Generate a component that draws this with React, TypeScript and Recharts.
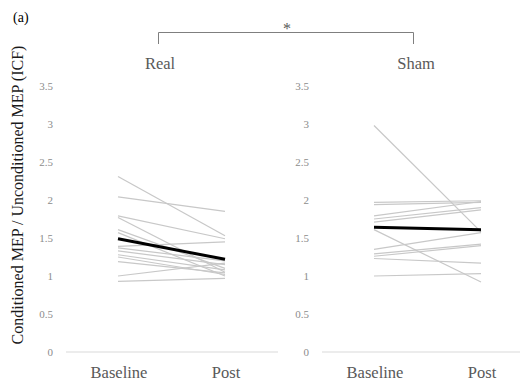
import React from "react";
import { Line, LineChart, XAxis, YAxis } from "recharts";

const phases = ["Baseline", "Post"];
const yTicks = [0, 0.5, 1, 1.5, 2, 2.5, 3, 3.5];

// Real stimulation, one value per subject
const realBaseline = [2.31, 2.04, 1.79, 1.77, 1.61, 1.57, 1.39, 1.37, 1.33, 1.28, 1.25, 1.19, 1.0, 0.93];
const realPost = [1.53, 1.85, 1.49, 1.05, 1.1, 1.0, 1.45, 1.2, 1.15, 1.08, 1.02, 1.04, 1.17, 0.97];
const realMean = [1.49, 1.22];

// Sham stimulation
const shamBaseline = [2.98, 1.97, 1.94, 1.79, 1.75, 1.71, 1.61, 1.35, 1.29, 1.26, 1.23, 1.0];
const shamPost = [1.58, 1.99, 1.97, 1.98, 1.9, 1.87, 0.92, 1.57, 1.42, 1.4, 1.17, 1.03];
const shamMean = [1.64, 1.61];

const FONT = '"Liberation Serif", "Times New Roman", serif';

const buildRows = (baseline: number[], post: number[], mean: number[]) =>
  phases.map((phase, i) => {
    const row: any = { phase, mean: mean[i] };
    const src = i === 0 ? baseline : post;
    src.forEach((v, k) => {
      row["s" + k] = v;
    });
    return row;
  });

const PhaseTick = (props: any) => {
  const { x, y, payload } = props;
  return (
    <text x={x + 1} y={y + 18} textAnchor="middle" fontFamily={FONT} fontSize={16.5} fill="#595959">
      {payload.value}
    </text>
  );
};

const ValueTick = (props: any) => {
  const { x, y, payload } = props;
  return (
    <text x={x} y={y + 4} textAnchor="end" fontFamily={FONT} fontSize={11} fill="#8c8c8c">
      {payload.value}
    </text>
  );
};

interface PanelProps {
  baseline: number[];
  post: number[];
  mean: number[];
  left: number;
}

const Panel: React.FC<PanelProps> = ({ baseline, post, mean, left }) => {
  const data = buildRows(baseline, post, mean);
  return (
    <div style={{ position: "absolute", left, top: 0 }}>
      <LineChart width={300} height={382} data={data} margin={{ top: 86, right: 22, bottom: 0, left: 0 }}>
        <XAxis
          dataKey="phase"
          height={30}
          padding={{ left: 52, right: 53 }}
          tickLine={false}
          axisLine={{ stroke: "#d9d9d9" }}
          tick={<PhaseTick />}
          interval={0}
        />
        <YAxis
          width={66}
          domain={[0, 3.5]}
          ticks={yTicks}
          axisLine={false}
          tickLine={false}
          tickSize={0}
          tickMargin={13}
          tick={<ValueTick />}
        />
        {baseline.map((_, k) => (
          <Line
            key={k}
            type="linear"
            dataKey={"s" + k}
            stroke="#c8c8c8"
            strokeWidth={1.2}
            dot={false}
            isAnimationActive={false}
          />
        ))}
        <Line type="linear" dataKey="mean" stroke="#000000" strokeWidth={3} dot={false} isAnimationActive={false} />
      </LineChart>
    </div>
  );
};

export default function App() {
  return (
    <div
      style={{
        position: "fixed",
        left: 0,
        top: 0,
        width: 520,
        height: 382,
        overflow: "hidden",
        background: "#ffffff",
      }}
    >
      <Panel baseline={realBaseline} post={realPost} mean={realMean} left={0} />
      <Panel baseline={shamBaseline} post={shamPost} mean={shamMean} left={256} />
      <svg width={520} height={382} style={{ position: "absolute", left: 0, top: 0, pointerEvents: "none" }}>
        <text x={13} y={22} fontFamily={FONT} fontSize={14} fill="#000000">
          (a)
        </text>
        <text
          transform="translate(23,195) rotate(-90)"
          textAnchor="middle"
          fontFamily={FONT}
          fontSize={16}
          fill="#1a1a1a"
        >
          Conditioned MEP / Unconditioned MEP (ICF)
        </text>
        <text x={160} y={69} textAnchor="middle" fontFamily={FONT} fontSize={16.5} fill="#595959">
          Real
        </text>
        <text x={416} y={69} textAnchor="middle" fontFamily={FONT} fontSize={16.5} fill="#595959">
          Sham
        </text>
        <path d="M158.5,44 V32.5 H413.5 V44" fill="none" stroke="#7f7f7f" strokeWidth={1} />
        <text x={287} y={34} textAnchor="middle" fontFamily={FONT} fontSize={16} fill="#595959">
          *
        </text>
      </svg>
    </div>
  );
}
